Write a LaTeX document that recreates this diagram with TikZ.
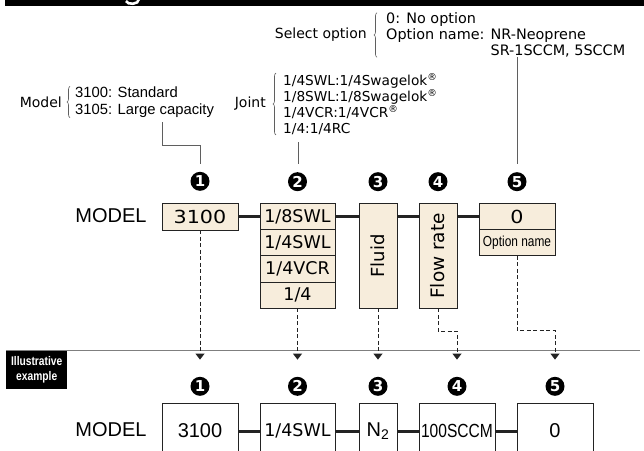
\documentclass[tikz,border=0pt]{standalone}
\usepackage{fontspec}
\setmainfont{DejaVu Sans}
\newfontfamily\arialf{Liberation Sans}
\newfontfamily\narrowf[FakeStretch=0.82]{Liberation Sans}
\newfontfamily\widef[FakeStretch=1.15]{DejaVu Sans}
\usetikzlibrary{arrows.meta,positioning,decorations.pathreplacing}
\definecolor{cream}{RGB}{247,237,220}
\definecolor{ink}{RGB}{35,35,35}
\definecolor{leadc}{RGB}{95,95,95}
\newcommand\fsz[2]{\fontsize{#1}{#2}\selectfont}

\begin{document}
\begin{tikzpicture}[x=1pt,y=-1pt,font=\fsz{13.7}{16},>={Triangle[width=9pt,length=6pt]},node distance=22pt]
\tikzstyle{hd}=[draw=ink,fill=cream,line width=0.8pt,inner sep=0pt,outer sep=0pt,minimum width=76pt,minimum height=26.25pt,font=\fsz{17.5}{17.5}]
\tikzstyle{ex}=[draw=ink,fill=white,line width=0.8pt,inner sep=0pt,outer sep=0pt,minimum width=76pt,minimum height=56pt,font=\arialf\fsz{20}{20}]
\tikzstyle{num}=[circle,fill=black,text=white,inner sep=0pt,minimum size=19pt,font=\fsz{15}{15}\bfseries]
\tikzstyle{lk}=[ink,line width=3pt]
\tikzstyle{dl}=[ink,line width=0.9pt,dash pattern=on 4pt off 2.5pt,->,shorten >=17pt]
\tikzstyle{ld}=[leadc,line width=0.9pt,shorten >=8pt]
\tikzstyle{brc}=[decorate,decoration={brace,amplitude=3pt},leadc,line width=0.6pt]
\tikzstyle{lb}=[inner sep=0pt]
\useasboundingbox (0,0) rectangle (644,450);
\clip (0,0) rectangle (644,450);
% title band, cut at the top
\fill (5,0) rectangle (644,6);
\draw[white,line width=2.6pt] (139,-1) .. controls (139,5) and (127,5) .. (126,1);
% choices
\node[lb,anchor=west,align=left,font=\arialf\fsz{14.8}{17}] (mtx) at (75,102) {3100: Standard\\3105: Large capacity};
\node[lb,left=13pt of mtx,font=\fsz{14}{16}] (mlb) {Model};
\draw[brc] ([xshift=-5pt]mtx.south west) -- ([xshift=-5pt]mtx.north west);
\node[lb,anchor=west,align=left] (jtx) at (283,104) {1/4SWL:1/4Swagelok\textsuperscript{®}\\1/8SWL:1/8Swagelok\textsuperscript{®}\\1/4VCR:1/4VCR\textsuperscript{®}\\1/4:1/4RC};
\node[lb,left=17pt of jtx,font=\fsz{14}{16}] (jlb) {Joint};
\draw[brc] ([xshift=-7pt]jtx.south west) -- ([xshift=-7pt]jtx.north west);
\node[lb,anchor=west,align=left,font=\fsz{14.4}{15.8}] (otx) at (386,35) {0: No option\\Option name: NR-Neoprene\\\hphantom{Option name: }SR-1SCCM, 5SCCM};
\node[lb,left=19pt of otx,font=\fsz{14}{16}] (olb) {Select option};
\draw[brc] ([xshift=-9pt]otx.south west) -- ([xshift=-9pt]otx.north west);
% code boxes
\node[lb,font=\arialf\fsz{20}{20}] (ml1) at (111,216) {MODEL};
\node[hd,anchor=north west,font=\widef\fsz{18}{18},minimum height=27pt] (m1) at (162,203) {3100};
\node[hd,minimum width=75pt,right=of m1] (j1) {1/8SWL};
\node[hd,minimum width=75pt,below=0pt of j1] (j2) {1/4SWL};
\node[hd,minimum width=75pt,below=0pt of j2] (j3) {1/4VCR};
\node[hd,minimum width=75pt,below=0pt of j3] (j4) {1/4};
\node[hd,minimum width=38pt,minimum height=105pt,font=\fsz{18}{18},below right=0pt and 24pt of j1.north east] (fl) {\rotatebox{90}{Fluid}};
\node[hd,minimum width=38pt,minimum height=105pt,font=\fsz{18.5}{18.5},below right=0pt and 22pt of fl.north east] (fr) {\rotatebox{90}{Flow rate}};
\node[hd,font=\widef\fsz{18}{18},below right=0pt and 22pt of fr.north east] (o1) {0};
\node[hd,font=\narrowf\fsz{14.5}{14.5},below=0pt of o1] (o1n) {Option name};
\draw[lk] (m1) -- (j1);
\draw[lk] (j1) -- (j1 -| fl.west);
\draw[lk] (j1 -| fl.east) -- (j1 -| fr.west);
\draw[lk] (j1 -| fr.east) -- (o1);
\node[num,above=12pt of m1] (c1) {1};
\node[num,above=12pt of j1] (c2) {2};
\node[num,above=12pt of fl] (c3) {3};
\node[num,above=12pt of fr] (c4) {4};
\node[num,above=12pt of o1] (c5) {5};
% leaders from the choices
\coordinate (mld) at (162,122);
\coordinate (jld) at (298,142);
\coordinate (old) at (517,57);
\draw[ld] (mld) -- ++(0,23) -| (c1.north);
\draw[ld] (jld) -- (jld |- c2.north);
\draw[ld] (old) -- (old |- c5.north);
% illustrative example
\node[fill=black,text=white,font=\narrowf\bfseries\fsz{12.5}{14.5},align=center,minimum width=61pt,minimum height=39pt,anchor=north west,inner sep=0pt] (ill) at (6,350) {Illustrative\\example};
\draw[leadc!80,line width=1pt] (ill.north west) -- ++(634,0);
\node[lb,font=\arialf\fsz{20}{20}] (ml2) at (111,430) {MODEL};
\node[ex,anchor=north west] (e1) at (162,403) {3100};
\node[ex,minimum width=75pt,font=\fsz{17.5}{17.5},right=of e1] (e2) {1/4SWL};
\node[ex,minimum width=38pt,right=24pt of e2] (e3) {N\textsubscript{2}};
\node[ex,font=\narrowf\fsz{19}{19},right=of e3] (e4) {100SCCM};
\node[ex,right=of e4] (e5) {0};
\draw[lk] (e1) -- (e2);
\draw[lk] (e2) -- (e3);
\draw[lk] (e3) -- (e4);
\draw[lk] (e4) -- (e5);
\node[num,above=7pt of e1] (d1) {1};
\node[num,above=7pt of e2] (d2) {2};
\node[num,above=7pt of e3] (d3) {3};
\node[num,above=7pt of e4] (d4) {4};
\node[num,above=7pt of e5] (d5) {5};
% picked codes
\draw[dl] (m1.south) -- (d1.north);
\draw[dl] (j4.south) -- (d2.north);
\draw[dl] (fl.south) -- (d3.north);
\draw[dl] (fr.south) -- ++(0,23) -| (d4.north);
\draw[dl] (o1n.south) -- ++(0,75) -| (d5.north);
\end{tikzpicture}
\end{document}
